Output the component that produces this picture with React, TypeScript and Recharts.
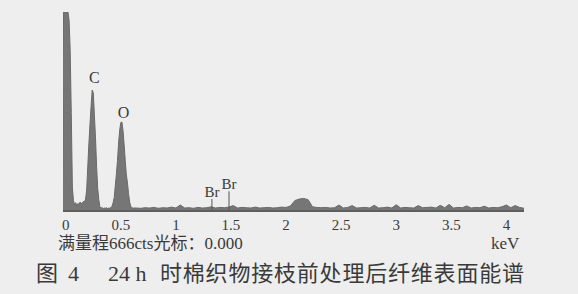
import { AreaChart, Area, XAxis, YAxis, ReferenceLine, ReferenceDot } from 'recharts';

// low-energy channels: -0.03 .. 0.62 keV, 0.01 keV apart (counts)
const lowStart = -0.03;
const lowStep = 0.01;
const lowCounts = [
  0, 666, 666, 666, 666, 666, 640, 540, 330, 80,
  35, 20, 28, 18, 25, 22, 30, 24, 28, 32,
  30, 40, 70, 150, 225, 290, 350, 405, 395, 320,
  245, 150, 75, 38, 14, 9, 12, 8, 10, 9,
  11, 8, 10, 9, 12, 16, 28, 45, 85, 125,
  170, 230, 272, 296, 298, 268, 222, 168, 122, 95,
  58, 30, 16, 12, 9, 10,
];

// rest of the spectrum: 0.64 .. 4.16 keV, 0.04 keV apart
const highStart = 0.64;
const highStep = 0.04;
const highCounts = [
  10, 9, 11, 10, 12, 9, 11, 10, 13, 10,
  20, 10, 11, 9, 12, 10, 11, 14, 10, 12,
  11, 13, 18, 10, 12, 11, 10, 13, 10, 11,
  12, 10, 11, 13, 12, 17, 35, 40, 42, 38,
  14, 12, 11, 12, 10, 11, 20, 10, 12, 18,
  10, 11, 12, 10, 19, 10, 11, 13, 10, 21,
  10, 12, 11, 10, 18, 11, 12, 13, 10, 19,
  11, 22, 10, 12, 11, 17, 10, 12, 11, 16,
  10, 12, 11, 14, 20, 11, 18, 12, 9,
];

const xTicks = [0, 0.5, 1, 1.5, 2, 2.5, 3, 3.5, 4];
const fullScale = 666;

const peakLabels = [
  { name: 'C', keV: 0.26, cts: 418 },
  { name: 'O', keV: 0.525, cts: 300 },
];

const brMarkers = [
  { keV: 1.327, cts: 40 },
  { keV: 1.482, cts: 66 },
];

const data = [
  ...lowCounts.map((c, i) => ({ keV: +(lowStart + i * lowStep).toFixed(3), cts: c })),
  ...highCounts.map((c, i) => ({ keV: +(highStart + i * highStep).toFixed(3), cts: c })),
];

const serif = "'Liberation Serif', 'Noto Sans CJK SC', serif";
const ink = '#3a3a3a';

export default function App() {
  return (
    <div
      style={{
        position: 'absolute',
        left: 0,
        top: 0,
        width: 578,
        height: 294,
        background: '#eeeeee',
        overflow: 'hidden',
        fontFamily: serif,
        color: ink,
      }}
    >
      <AreaChart
        width={578}
        height={240}
        data={data}
        margin={{ top: 12, right: 54, left: 63, bottom: 0 }}
      >
        <XAxis
          dataKey="keV"
          type="number"
          domain={[-0.025, 4.16]}
          allowDataOverflow
          ticks={xTicks}
          height={29}
          tickLine={false}
          axisLine={{ stroke: '#5e5e5e', strokeWidth: 2 }}
          tick={{ fill: ink, fontSize: 15, fontFamily: serif }}
          tickFormatter={(v) => String(v)}
        />
        <YAxis hide domain={[0, fullScale]} allowDataOverflow />
        <Area
          type="linear"
          dataKey="cts"
          stroke="#6a6a6a"
          strokeWidth={1}
          fill="#767676"
          fillOpacity={1}
          isAnimationActive={false}
          dot={false}
          activeDot={false}
        />
        {brMarkers.map((m, i) => (
          <ReferenceLine
            key={i}
            segment={[
              { x: m.keV, y: 0 },
              { x: m.keV, y: m.cts },
            ]}
            stroke="#555"
            strokeWidth={1}
            label={{ value: 'Br', position: 'top', offset: 2, fill: ink, fontSize: 15, fontFamily: serif }}
          />
        ))}
        {peakLabels.map((p) => (
          <ReferenceDot
            key={p.name}
            x={p.keV}
            y={p.cts}
            r={1}
            fill="none"
            stroke="none"
            label={{ value: p.name, position: 'top', offset: 2, fill: ink, fontSize: 16, fontFamily: serif }}
          />
        ))}
      </AreaChart>
      <div style={{ position: 'absolute', left: 58, top: 234, fontSize: 17, whiteSpace: 'pre', lineHeight: '20px' }}>
        满量程666cts光标：0.000
      </div>
      <div style={{ position: 'absolute', left: 491, top: 234, fontSize: 17, lineHeight: '20px' }}>keV</div>
      <div style={{ position: 'absolute', left: 0, top: 260, width: 578, height: 28, fontSize: 22, lineHeight: '28px' }}>
        <span style={{ position: 'absolute', left: 36 }}>图</span>
        <span style={{ position: 'absolute', left: 68 }}>4</span>
        <span style={{ position: 'absolute', left: 108, whiteSpace: 'pre' }}>24 h</span>
        <span style={{ position: 'absolute', left: 160, letterSpacing: 0.8 }}>时棉织物接枝前处理后纤维表面能谱</span>
      </div>
    </div>
  );
}
